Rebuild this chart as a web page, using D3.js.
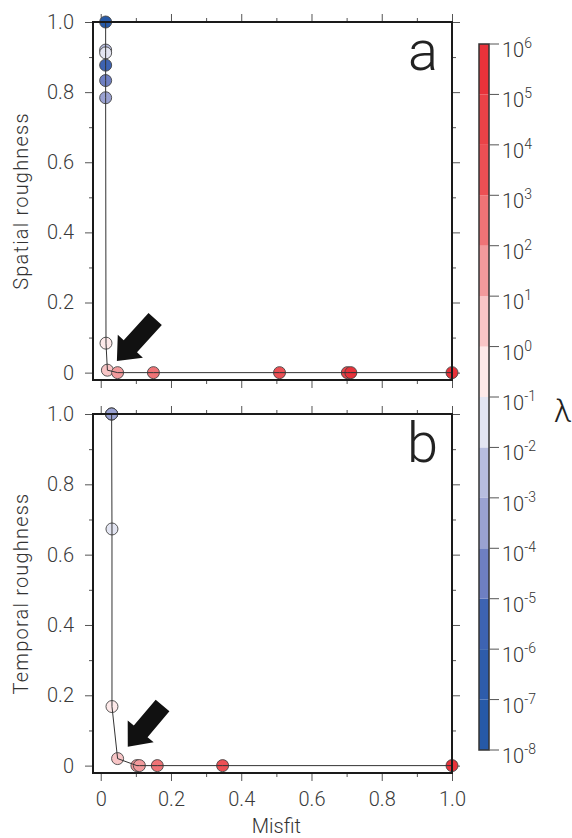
<!DOCTYPE html>
<html lang="en">
<head>
<meta charset="utf-8">
<title>Misfit vs roughness</title>
<script src="https://d3js.org/d3.v7.min.js"></script>
<style>
  body { margin: 0; background: #fff; }
  text { font-family: Roboto, "Liberation Sans", sans-serif; font-weight: 300; fill: #333; }
</style>
</head>
<body>
<script>

// panel a : misfit vs spatial roughness (lambda given as log10 exponent)
const misfitA  = [0.014, 0.014, 0.014, 0.014, 0.014, 0.014, 0.015, 0.019, 0.048, 0.150, 0.509, 0.702, 0.712, 1.0];
const spatialA = [1.0, 0.920, 0.912, 0.877, 0.833, 0.784, 0.084, 0.007, 0, 0, 0, 0, 0, 0];
const lambdaA  = [-8, -3, -2, -6, -5, -4, -1, 0, 1, 2, 3, 4, 5, 5];

// panel b : misfit vs temporal roughness
const misfitB   = [0.031, 0.031, 0.031, 0.032, 0.032, 0.048, 0.103, 0.110, 0.161, 0.347, 1.0];
const temporalB = [1.0, 1.0, 1.0, 0.673, 0.168, 0.020, 0, 0, 0, 0, 0];
const lambdaB   = [-8, -6, -4, -2, -1, 0, 1, 1, 2, 3, 5];

// arrows pointing at the chosen model [misfit, roughness]
const arrowTipA  = [0.046, 0.033], arrowTailA = [0.155, 0.153];
const arrowTipB  = [0.077, 0.054], arrowTailB = [0.176, 0.171];

// axis ticks
const majorTicks = [0, 0.2, 0.4, 0.6, 0.8, 1.0];
const minorTicks = [0.1, 0.3, 0.5, 0.7, 0.9];

// colour bar: one colour per decade, from 10^-8 up to 10^6
const cbExponents = [-8, -7, -6, -5, -4, -3, -2, -1, 0, 1, 2, 3, 4, 5, 6];
const cbColors = ["#2659a7", "#2e5cab", "#3d63b2", "#6e7fc2", "#9aa2d2", "#b7bddf", "#e3e5f2",
                  "#fde9e9", "#f8c5c6", "#f29a9c", "#ef7376", "#ec4f54", "#ea4247", "#e8323a"];

const W = 572, H = 838;
const svg = d3.select("body").append("svg")
    .attr("width", W)
    .attr("height", H);

const color = d3.scaleThreshold()
    .domain(cbExponents.slice(1, -1))
    .range(cbColors);

const x = d3.scaleLinear().domain([-0.022, 1]).range([93, 452]);
const fmt = d => d === 0 ? "0" : d3.format(".1f")(d);

function panel(yRange, mis, rough, lam, letter, title, tip, tail, xLabels) {
  const y = d3.scaleLinear().domain([-0.021, 1]).range(yRange);
  const g = svg.append("g");
  const [x0, x1] = x.range();
  const [y0, y1] = y.range();

  // ticks on all four sides, pointing out
  const sides = [
    [d3.axisLeft, y, `translate(${x0},0)`, true],
    [d3.axisRight, y, `translate(${x1},0)`, false],
    [d3.axisTop, x, `translate(0,${y1})`, false],
    [d3.axisBottom, x, `translate(0,${y0})`, xLabels]
  ];
  sides.forEach(([ax, sc, tr, lab]) => {
    const major = g.append("g").attr("transform", tr)
        .call(ax(sc).tickValues(majorTicks).tickSize(8).tickPadding(11)
          .tickFormat(lab ? fmt : ""));
    const minor = g.append("g").attr("transform", tr)
        .call(ax(sc).tickValues(minorTicks).tickSize(4).tickFormat(""));
    [major, minor].forEach(a => {
      a.select(".domain").remove();
      a.selectAll("line").attr("stroke", "#555");
      a.selectAll("text").style("font-size", "20px").style("fill", "#3a3a3a");
    });
  });

  const pts = mis.map((m, i) => ({m: m, r: rough[i], l: lam[i]}));

  g.selectAll("circle.pt")
    .data(pts)
    .join("circle")
      .attr("class", "pt")
      .attr("cx", d => x(d.m))
      .attr("cy", d => y(d.r))
      .attr("r", 6)
      .attr("fill", d => color(d.l))
      .attr("stroke", "#444")
      .attr("stroke-width", 0.9);

  g.append("path")
      .datum(pts)
      .attr("fill", "none")
      .attr("stroke", "#333")
      .attr("stroke-width", 1)
      .attr("d", d3.line().x(d => x(d.m)).y(d => y(d.r)));

  // frame
  g.append("rect")
      .attr("x", x0).attr("y", y1)
      .attr("width", x1 - x0).attr("height", y0 - y1)
      .attr("fill", "none")
      .attr("stroke", "#1a1a1a")
      .attr("stroke-width", 2);

  // arrow
  const T = [x(tip[0]), y(tip[1])], C = [x(tail[0]), y(tail[1])];
  const len = Math.hypot(T[0] - C[0], T[1] - C[1]);
  const u = [(T[0] - C[0]) / len, (T[1] - C[1]) / len], n = [-u[1], u[0]];
  const headLen = 20, shaft = 9, head = 17;
  const B = [T[0] - u[0] * headLen, T[1] - u[1] * headLen];
  const pt = (p, k) => [p[0] + n[0] * k, p[1] + n[1] * k];
  g.append("polygon")
      .attr("points", [pt(C, shaft), pt(B, shaft), pt(B, head), T, pt(B, -head), pt(B, -shaft), pt(C, -shaft)]
        .map(p => p.join(",")).join(" "))
      .attr("fill", "#111");

  g.append("text")
      .attr("x", 438).attr("y", y1 + 48)
      .attr("text-anchor", "end")
      .style("font-size", "56px")
      .style("fill", "#222")
      .text(letter);

  g.append("text")
      .attr("transform", `translate(28,${(y0 + y1) / 2}) rotate(-90)`)
      .attr("text-anchor", "middle")
      .style("font-size", "20px")
      .style("letter-spacing", "1.2px")
      .text(title);
}

panel([380, 22], misfitA, spatialA, lambdaA, "a", "Spatial roughness", arrowTipA, arrowTailA, false);
panel([773, 414], misfitB, temporalB, lambdaB, "b", "Temporal roughness", arrowTipB, arrowTailB, true);

svg.append("text")
    .attr("x", (x(0) + x(1)) / 2)
    .attr("y", 833)
    .attr("text-anchor", "middle")
    .style("font-size", "20px")
    .text("Misfit");

// colour bar
const cb = d3.scaleLinear()
    .domain([cbExponents[0], cbExponents[cbExponents.length - 1]])
    .range([750, 44]);
const cbX = 479, cbW = 10;
const cbg = svg.append("g");

cbg.selectAll("rect.bin")
  .data(cbColors)
  .join("rect")
    .attr("class", "bin")
    .attr("x", cbX)
    .attr("y", (c, i) => cb(cbExponents[i + 1]))
    .attr("width", cbW)
    .attr("height", (c, i) => cb(cbExponents[i]) - cb(cbExponents[i + 1]))
    .attr("fill", c => c);

cbg.append("rect")
    .attr("x", cbX).attr("y", cb.range()[1])
    .attr("width", cbW).attr("height", cb.range()[0] - cb.range()[1])
    .attr("fill", "none")
    .attr("stroke", "#333")
    .attr("stroke-width", 1.5);

cbg.selectAll("line.tk")
  .data(cbExponents)
  .join("line")
    .attr("class", "tk")
    .attr("x1", cbX + cbW).attr("x2", cbX + cbW + 10)
    .attr("y1", d => cb(d)).attr("y2", d => cb(d))
    .attr("stroke", "#555");

const lab = cbg.selectAll("text.tl")
  .data(cbExponents)
  .join("text")
    .attr("class", "tl")
    .attr("x", cbX + cbW + 13)
    .attr("y", d => cb(d) + 13)
    .style("font-size", "20px");
lab.append("tspan").text("10");
lab.append("tspan")
    .attr("dy", -9)
    .style("font-size", "14px")
    .text(d => d);

cbg.append("text")
    .attr("x", 554).attr("y", 422)
    .style("font-size", "32px")
    .style("fill", "#222")
    .text("λ");

</script>
</body>
</html>
